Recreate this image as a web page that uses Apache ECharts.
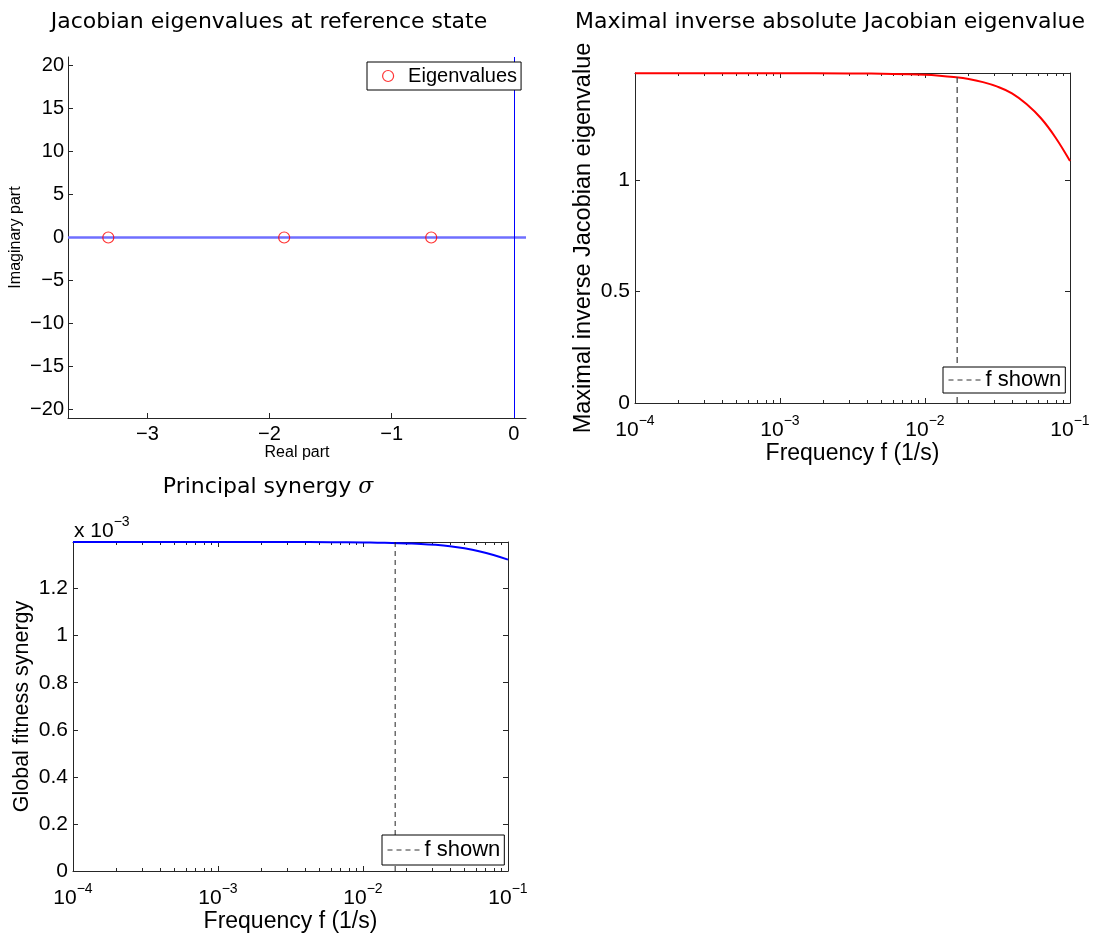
<!DOCTYPE html>
<html>
<head>
<meta charset="utf-8">
<script src="https://cdn.jsdelivr.net/npm/echarts@6/dist/echarts.min.js"></script>
<style>
  html, body { margin: 0; padding: 0; background: #fff; }
  #chart { width: 1097px; height: 936px; }
</style>
</head>
<body>
<div id="chart"></div>
<script>
// jacobian eigenvalues at the reference state
const eigReal = [-3.32, -1.88, -0.676]
const eigImag = [0, 0, 0]
const realTicks = [-3, -2, -1, 0]
const imagTicks = [-20, -15, -10, -5, 0, 5, 10, 15, 20]

// maximal inverse absolute eigenvalue vs frequency (1/s)
const freqEig = [1e-4, 1e-3, 3e-3, 6e-3, 0.01, 0.0126, 0.0158, 0.02, 0.0251, 0.0316, 0.0398, 0.0501, 0.0631, 0.0794, 0.1]
const invEig = [1.479, 1.479, 1.478, 1.476, 1.472, 1.468, 1.462, 1.453, 1.439, 1.419, 1.389, 1.341, 1.277, 1.191, 1.085]
const invEigTicks = [0, 0.5, 1]
const invEigMax = 1.48

// principal synergy vs frequency
const freqSyn = [1e-4, 1e-3, 3e-3, 6e-3, 0.01, 0.0126, 0.0158, 0.02, 0.0251, 0.0316, 0.0398, 0.0501, 0.0631, 0.0794, 0.1]
const synergy = [1.398e-3, 1.398e-3, 1.398e-3, 1.397e-3, 1.396e-3, 1.395e-3, 1.394e-3, 1.392e-3, 1.390e-3, 1.386e-3, 1.380e-3, 1.371e-3, 1.359e-3, 1.343e-3, 1.323e-3]
const synergyTicks = [0, 0.2e-3, 0.4e-3, 0.6e-3, 0.8e-3, 1.0e-3, 1.2e-3]
const synergyMax = 1.398e-3

const fShown = 1 / 60
const decades = [-4, -3, -2, -1]   // log10 of 1e-4 .. 1e-1

let minorTicks = []
decades.slice(0, -1).forEach(d => {
  for (let k = 2; k <= 9; k++) minorTicks.push(Math.log10(k) + d)
})

const AX = '#262626'
const FONT = 'Liberation Sans, Arial, sans-serif'
const TITLE_FONT = 'DejaVu Sans, sans-serif'
const minus = v => String(v).replace('-', '\u2212')

const supRich = {
  b: { fontFamily: FONT, fontSize: 21, color: '#000', lineHeight: 22, verticalAlign: 'bottom' },
  s: { fontFamily: FONT, fontSize: 14, color: '#000', lineHeight: 14, padding: [0, 0, 13, 0], verticalAlign: 'bottom' }
}

// one log-frequency axis (drawn on log10 values)
function freqAxis(gridIndex, position, major, name, nameGap) {
  let ax = {
    type: 'value', gridIndex, position, min: -4, max: -1,
    axisLine: { show: major, onZero: false, lineStyle: { color: AX, width: 1 } },
    axisTick: { show: true, inside: true, length: major ? 5 : 3, customValues: major ? decades : minorTicks, lineStyle: { color: AX } },
    axisLabel: { show: false },
    splitLine: { show: false }
  }
  if (major && position === 'bottom') {
    ax.axisLabel = {
      show: true, customValues: decades, margin: 16,
      formatter: v => '{b|10}{s|' + minus(v) + '}',
      rich: supRich
    }
    ax.name = name
    ax.nameLocation = 'middle'
    ax.nameGap = nameGap
    ax.nameTextStyle = { fontFamily: FONT, fontSize: 23, color: '#000' }
  }
  return ax
}

function valAxis(gridIndex, position, min, max, ticks, fmt, name, nameGap, nameSize) {
  let left = position === 'left'
  return {
    type: 'value', gridIndex, position, min, max,
    axisLine: { show: true, onZero: false, lineStyle: { color: AX, width: 1 } },
    axisTick: { show: true, inside: true, length: 5, customValues: ticks, lineStyle: { color: AX } },
    axisLabel: { show: left, customValues: ticks, margin: 5, formatter: fmt, fontFamily: FONT, fontSize: 21, color: '#000' },
    splitLine: { show: false },
    name: left ? name : '',
    nameLocation: 'middle', nameRotate: 90, nameGap,
    nameTextStyle: { fontFamily: FONT, fontSize: nameSize, color: '#000' }
  }
}

const fLog = Math.log10(fShown)

const option = {
  backgroundColor: '#fff',
  animation: false,
  grid: [
    { left: 68, top: 57, width: 458, height: 361 },
    { left: 635, top: 73, width: 435, height: 330 },
    { left: 73, top: 542, width: 435, height: 329 }
  ],
  xAxis: [
    {
      type: 'value', gridIndex: 0, min: -3.65, max: 0.1,
      axisLine: { onZero: false, lineStyle: { color: AX, width: 1 } },
      axisTick: { inside: true, length: 5, customValues: realTicks, lineStyle: { color: AX } },
      axisLabel: { customValues: realTicks, margin: 6, formatter: minus, fontFamily: FONT, fontSize: 20, color: '#000' },
      splitLine: { show: false },
      name: 'Real part', nameLocation: 'middle', nameGap: 26,
      nameTextStyle: { fontFamily: FONT, fontSize: 16, color: '#000' }
    },
    freqAxis(1, 'bottom', true, 'Frequency f (1/s)', 33),
    freqAxis(1, 'bottom', false),
    freqAxis(1, 'top', true),
    freqAxis(1, 'top', false),
    freqAxis(2, 'bottom', true, 'Frequency f (1/s)', 36),
    freqAxis(2, 'bottom', false),
    freqAxis(2, 'top', true),
    freqAxis(2, 'top', false)
  ],
  yAxis: [
    {
      type: 'value', gridIndex: 0, min: -21, max: 21,
      axisLine: { onZero: false, lineStyle: { color: AX, width: 1 } },
      axisTick: { inside: true, length: 5, customValues: imagTicks, lineStyle: { color: AX } },
      axisLabel: { customValues: imagTicks, margin: 4, formatter: minus, fontFamily: FONT, fontSize: 20, color: '#000' },
      splitLine: { show: false },
      name: 'Imaginary part', nameLocation: 'middle', nameRotate: 90, nameGap: 44,
      nameTextStyle: { fontFamily: FONT, fontSize: 16, color: '#000' }
    },
    valAxis(1, 'left', 0, invEigMax, invEigTicks, v => String(v), 'Maximal inverse Jacobian eigenvalue', 39, 23.5),
    valAxis(1, 'right', 0, invEigMax, invEigTicks, null, '', 0, 20),
    valAxis(2, 'left', 0, synergyMax, synergyTicks, v => String(+(v * 1000).toFixed(1)), 'Global fitness synergy', 40, 21.5),
    valAxis(2, 'right', 0, synergyMax, synergyTicks, null, '', 0, 20)
  ],
  legend: [
    {
      data: ['Eigenvalues'], left: 367, top: 62,
      padding: [4, 4, 4, 15], itemWidth: 30, itemHeight: 11,
      backgroundColor: '#fff', borderColor: '#000', borderWidth: 1, borderRadius: 0,
      itemStyle: { color: 'transparent', borderColor: '#ff0000', borderWidth: 1.2 },
      textStyle: { fontFamily: FONT, fontSize: 20, color: '#000' }
    },
    {
      data: ['f shown'], left: 943, top: 367,
      padding: [1, 4, 1, 5], itemWidth: 32, itemHeight: 10,
      backgroundColor: '#fff', borderColor: '#000', borderWidth: 1, borderRadius: 0,
      itemStyle: { color: 'transparent', borderWidth: 0 },
      lineStyle: { color: '#333', width: 1, type: [5, 4] },
      textStyle: { fontFamily: FONT, fontSize: 22, color: '#000', lineHeight: 24 }
    },
    {
      data: ['f shown'], left: 382, top: 835,
      padding: [3, 4, 3, 5], itemWidth: 32, itemHeight: 10,
      backgroundColor: '#fff', borderColor: '#000', borderWidth: 1, borderRadius: 0,
      itemStyle: { color: 'transparent', borderWidth: 0 },
      lineStyle: { color: '#333', width: 1, type: [5, 4] },
      textStyle: { fontFamily: FONT, fontSize: 22, color: '#000', lineHeight: 24 }
    }
  ],
  graphic: [
    { type: 'text', x: 269, y: 22, style: { text: 'Jacobian eigenvalues at reference state', align: 'center', verticalAlign: 'middle', fontFamily: TITLE_FONT, fontSize: 22, fill: '#000' } },
    { type: 'text', x: 830, y: 22, style: { text: 'Maximal inverse absolute Jacobian eigenvalue', align: 'center', verticalAlign: 'middle', fontFamily: TITLE_FONT, fontSize: 22, fill: '#000' } },
    {
      type: 'text', x: 268, y: 487,
      style: {
        text: 'Principal synergy {m|\u03c3}', align: 'center', verticalAlign: 'middle',
        fontFamily: TITLE_FONT, fontSize: 22, fill: '#000',
        rich: { m: { fontFamily: 'DejaVu Serif, serif', fontStyle: 'italic', fontSize: 22, fill: '#000' } }
      }
    },
    {
      type: 'text', x: 74, y: 520,
      style: { text: '{b|x 10}{s|\u22123}', align: 'left', verticalAlign: 'top', rich: supRich }
    }
  ],
  series: [
    {
      name: 'Eigenvalues', type: 'scatter', xAxisIndex: 0, yAxisIndex: 0, z: 3,
      data: eigReal.map((x, i) => [x, eigImag[i]]),
      symbol: 'circle', symbolSize: 11,
      itemStyle: { color: 'transparent', borderColor: '#ff0000', borderWidth: 1.2 },
      markLine: {
        silent: true, symbol: 'none', z: 2, animation: false,
        label: { show: false },
        lineStyle: { color: '#6f6fff', width: 2.5, type: 'solid', opacity: 1 },
        data: [
          { yAxis: 0 },
          { xAxis: 0, lineStyle: { color: '#0000ff', width: 1, type: 'solid' } }
        ]
      }
    },
    {
      name: 'invEig', type: 'line', xAxisIndex: 1, yAxisIndex: 1,
      data: freqEig.map((f, i) => [Math.log10(f), invEig[i]]),
      symbol: 'none', smooth: 0.4,
      itemStyle: { color: '#ff0000' },
      lineStyle: { color: '#ff0000', width: 2 }
    },
    {
      name: 'f shown', type: 'line', xAxisIndex: 1, yAxisIndex: 1,
      data: [[fLog, 0], [fLog, invEigMax]],
      symbol: 'none', itemStyle: { color: '#333' },
      lineStyle: { color: '#4a4a4a', width: 1.3, type: [6, 4] }
    },
    {
      name: 'synergy', type: 'line', xAxisIndex: 5, yAxisIndex: 3,
      data: freqSyn.map((f, i) => [Math.log10(f), synergy[i]]),
      symbol: 'none', smooth: 0.4,
      itemStyle: { color: '#0000ff' },
      lineStyle: { color: '#0000ff', width: 2 }
    },
    {
      name: 'f shown', type: 'line', xAxisIndex: 5, yAxisIndex: 3,
      data: [[fLog, 0], [fLog, synergyMax]],
      symbol: 'none', itemStyle: { color: '#333' },
      lineStyle: { color: '#222', width: 1, type: [5, 4] }
    }
  ]
}

const chart = echarts.init(document.getElementById('chart'))
chart.setOption(option)
</script>
</body>
</html>
